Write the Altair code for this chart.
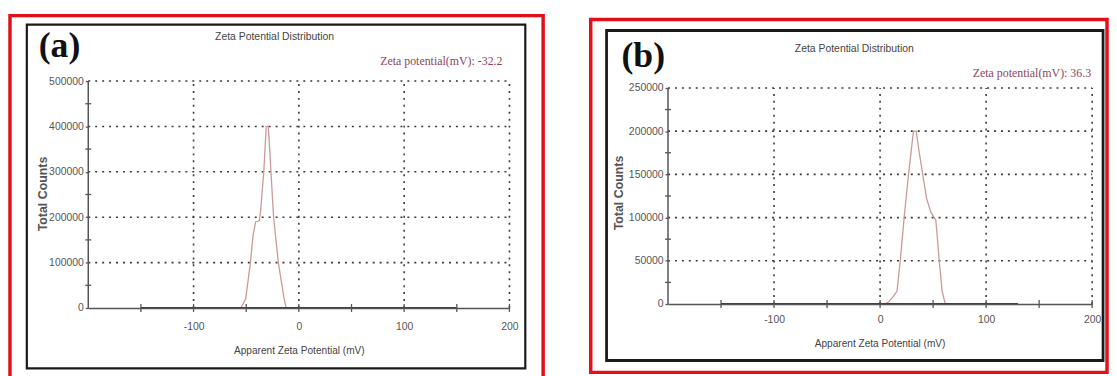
import altair as alt
import pandas as pd

# ---------------- data ----------------
# panel (a)
a_mv = [-150, -55, -50.5, -46, -43.5, -41, -37.5, -36.5, -33.3, -31, -29, -26.5, -24, -19.5, -14, -12, 150]
a_counts = [0, 0, 20000, 100000, 160000, 190000, 192000, 210000, 300000, 400000, 400000, 300000, 200000, 100000, 20000, 0, 0]
a_base = [-150, 150]
a_yticks = [0, 100000, 200000, 300000, 400000, 500000]
a_yminor = [50000, 150000, 250000, 350000, 450000]
a_ymax = 500000
a_zeta = "Zeta potential(mV): -32.2"

# panel (b)
b_mv = [-150, 5, 8, 12, 16, 19, 22.7, 26.8, 31.5, 34, 37, 40.2, 43.9, 48, 52.6, 55.8, 58.5, 61.5, 130]
b_counts = [0, 0, 2500, 8000, 15000, 50000, 100000, 150000, 200000, 200000, 175000, 150000, 122000, 106000, 97000, 50000, 15000, 0, 0]
b_base = [-150, 130]
b_yticks = [0, 50000, 100000, 150000, 200000, 250000]
b_yminor = [25000, 75000, 125000, 175000, 225000]
b_ymax = 258000
b_zeta = "Zeta potential(mV): 36.3"

x_labels = [-100, 0, 100, 200]
x_minor = [-150, -100, -50, 0, 50, 100, 150, 200]
x_range = [-200, 200]
title_txt = "Zeta Potential Distribution"
xtitle_txt = "Apparent Zeta Potential (mV)"
ytitle_txt = "Total Counts"

SANS = "Liberation Sans, Arial, sans-serif"
SERIF = "Liberation Serif, Times New Roman, serif"
LBL = "#555555"
GRID = "#3a3a3a"
CURVE = "#c99a98"
AX = "#555555"


def panel(mv, counts, base, yticks, yminor, ymax, zeta, letter, W, H, geo):
    xs = alt.Scale(domain=x_range, nice=False, zero=False)
    ys = alt.Scale(domain=[0, ymax], nice=False)
    xaxis = alt.Axis(values=x_labels, grid=False, labelExpr="datum.value",
                     domainColor=AX, domainWidth=1.5, ticks=True, tickSize=0,
                     labelPadding=geo["xlp"], labelFont=SANS, labelFontSize=10.5, labelColor=LBL,
                     labelFlush=False, title=None, zindex=1)
    yaxis = alt.Axis(values=yticks, format="d", grid=False, domain=False,
                     ticks=True, tickSize=3, tickColor=AX, tickWidth=1.3,
                     labelPadding=2, labelFont=SANS, labelFontSize=10.5, labelColor=LBL, title=None, zindex=1)

    d0 = pd.DataFrame({"k": [0]})
    bg = alt.Chart(d0).mark_rect(fill="white", opacity=0).encode(
        x=alt.value(geo["bg"][0]), x2=alt.value(geo["bg"][1]),
        y=alt.value(geo["bg"][2]), y2=alt.value(geo["bg"][3]))
    red = alt.Chart(d0).mark_rect(filled=False, stroke="#e3101a", strokeWidth=3.5).encode(
        x=alt.value(geo["red"][0]), x2=alt.value(geo["red"][1]),
        y=alt.value(geo["red"][2]), y2=alt.value(geo["red"][3]))
    blk = alt.Chart(d0).mark_rect(filled=False, stroke="#1a1a1a", strokeWidth=geo["blkw"]).encode(
        x=alt.value(geo["blk"][0]), x2=alt.value(geo["blk"][1]),
        y=alt.value(geo["blk"][2]), y2=alt.value(geo["blk"][3]))

    top = yticks[-1]
    vg_df = pd.DataFrame({"v": x_labels, "y0": [0] * len(x_labels), "y1": [top] * len(x_labels)})
    vgrid = alt.Chart(vg_df).mark_rule(color=GRID, strokeWidth=1.6, strokeDash=[2, 5]).encode(
        x=alt.X("v:Q", scale=xs), y=alt.Y("y0:Q", scale=ys), y2="y1:Q")
    hg_df = pd.DataFrame({"v": yticks[1:], "x0": [x_range[0]] * (len(yticks) - 1),
                          "x1": [x_range[1]] * (len(yticks) - 1)})
    hgrid = alt.Chart(hg_df).mark_rule(color=GRID, strokeWidth=1.6, strokeDash=[2, 5]).encode(
        y=alt.Y("v:Q", scale=ys), x=alt.X("x0:Q", scale=xs), x2="x1:Q")
    ydom_df = pd.DataFrame({"x": [x_range[0]], "y0": [0], "y1": [top]})
    ydom = alt.Chart(ydom_df).mark_rule(color=AX, strokeWidth=1.5).encode(
        x=alt.X("x:Q", scale=xs), y=alt.Y("y0:Q", scale=ys), y2="y1:Q")

    curve_df = pd.DataFrame({"mv": mv, "counts": counts})
    axes = alt.Chart(curve_df).mark_line(color=CURVE, strokeWidth=1.3).encode(
        x=alt.X("mv:Q", scale=xs, axis=xaxis),
        y=alt.Y("counts:Q", scale=ys, axis=yaxis))

    base_df = pd.DataFrame({"x1": [base[0]], "x2": [base[1]], "y": [0]})
    baseline = alt.Chart(base_df).mark_rule(color="#4a3535", strokeWidth=2.2).encode(
        x=alt.X("x1:Q", scale=xs), x2="x2:Q", y=alt.Y("y:Q", scale=ys))

    xt_df = pd.DataFrame({"v": x_minor})
    xt = alt.Chart(xt_df).mark_rule(color=AX, strokeWidth=1.3).encode(
        x=alt.X("v:Q", scale=xs), y=alt.value(H - 4), y2=alt.value(H + 4))
    yt_df = pd.DataFrame({"v": yminor})
    yt = alt.Chart(yt_df).mark_rule(color=AX, strokeWidth=1.3).encode(
        y=alt.Y("v:Q", scale=ys), x=alt.value(-3), x2=alt.value(3))

    def txt(t, pos, **kw):
        return alt.Chart(d0).mark_text(text=t, **kw).encode(x=alt.value(pos[0]), y=alt.value(pos[1]))

    title = txt(title_txt, geo["title"], font=SANS, fontSize=10.5, color="#444", align="center", baseline="middle")
    zt = txt(zeta, geo["zeta"], font=SERIF, fontSize=12, color="#8c4560", align="right", baseline="middle")
    let = txt(letter, geo["let"], font=SERIF, fontSize=36, fontWeight="bold", color="#111", align="left", baseline="middle")
    ytl = txt(ytitle_txt, geo["ytitle"], font=SANS, fontSize=12.5, fontWeight="bold", color=LBL, angle=270,
              align="center", baseline="middle")
    xtl = txt(xtitle_txt, geo["xtitle"], font=SANS, fontSize=10.2, color="#444", align="center", baseline="middle")

    return alt.layer(bg, red, blk, vgrid, hgrid, ydom, axes, baseline, xt, yt,
                     title, zt, let, ytl, xtl).properties(width=W, height=H)


# panel geometry in pixels relative to each plot's top-left corner
geo_a = dict(bg=(-81, 471, -72, 300), red=(-79, 459, -66, 300), blk=(-62, 441, -57, 290), blkw=2.2,
             title=(188, -44), zeta=(418, -20), let=(-50, -35), ytitle=(-46, 114), xtitle=(213, 272), xlp=14)
geo_b = dict(bg=(-114, 445, -72, 300), red=(-78, 443, -62, 294), blk=(-62, 439, -51, 282), blkw=2.8,
             title=(188, -32), zeta=(427, -8), let=(-47, -25), ytitle=(-49, 113), xtitle=(214, 265), xlp=11)

pa = panel(a_mv, a_counts, a_base, a_yticks, a_yminor, a_ymax, a_zeta, "(a)", 425, 229, geo_a)
pb = panel(b_mv, b_counts, b_base, b_yticks, b_yminor, b_ymax, b_zeta, "(b)", 428, 225, geo_b)

chart = alt.hconcat(pa, pb, spacing=0, padding=0).configure_view(stroke=None)
chart.save("out.html", embed_options={"renderer": "svg", "actions": False})
